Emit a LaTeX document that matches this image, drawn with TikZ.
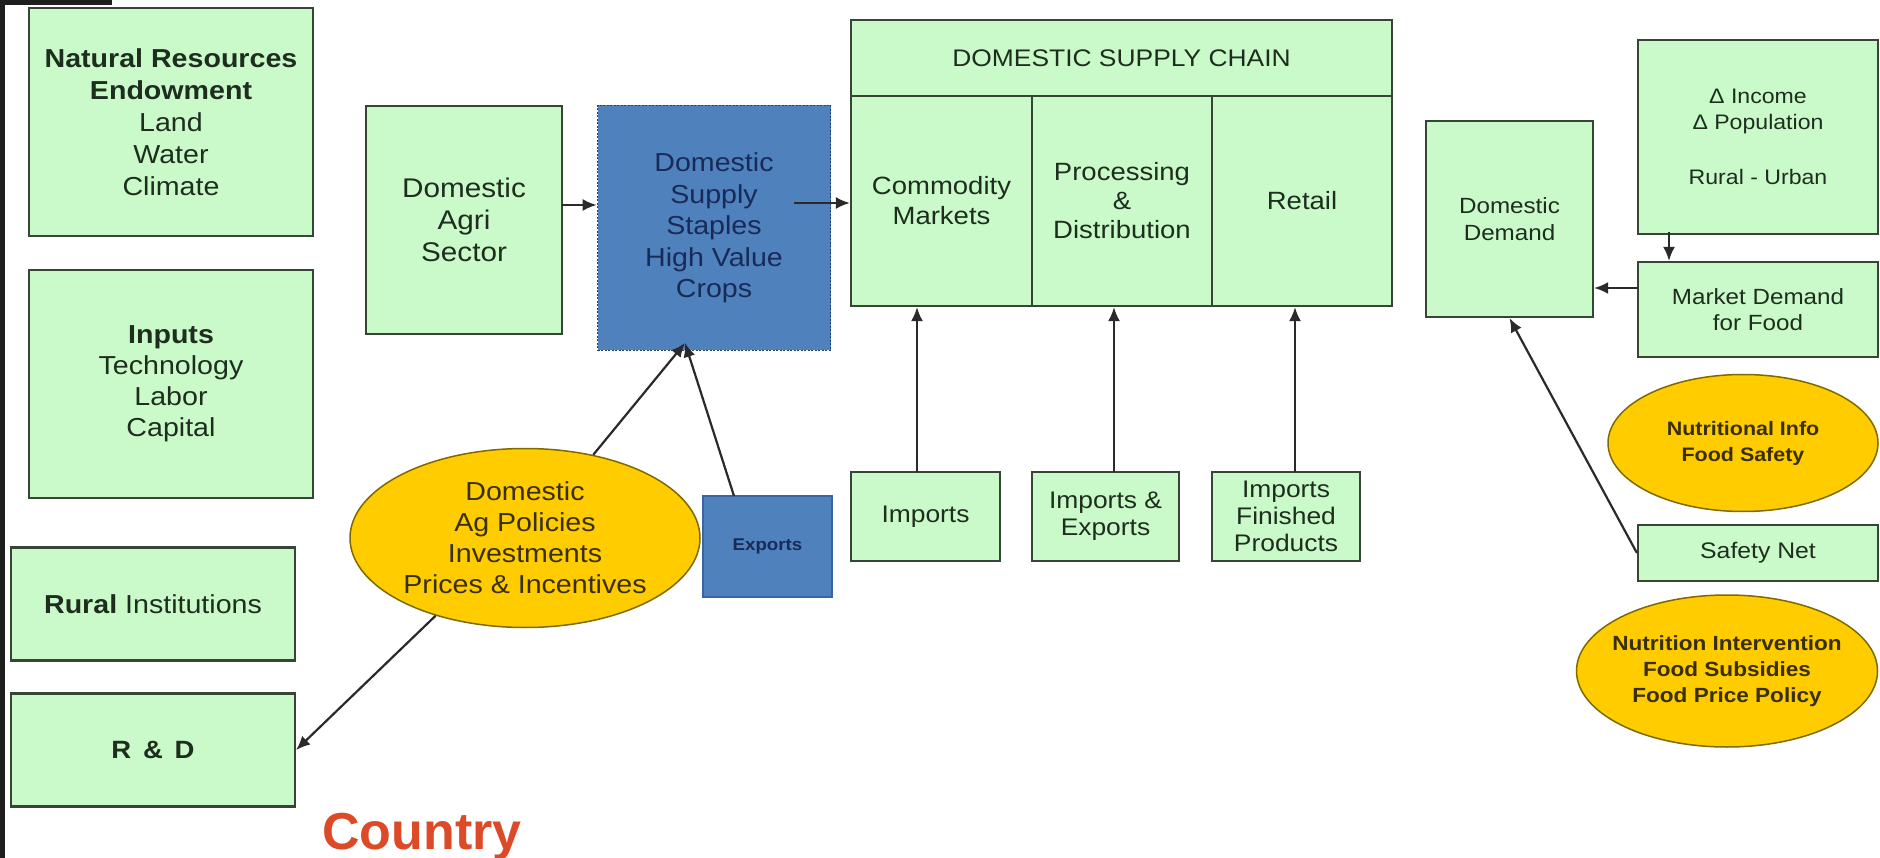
\documentclass[tikz,border=0pt]{standalone}
\usepackage{fontspec}
\setmainfont{Liberation Sans}[FakeStretch=1.1]
\newfontfamily\countryfont{Liberation Sans}
\usetikzlibrary{arrows.meta,shapes.geometric,calc}
\definecolor{greenf}{HTML}{CAFACA}
\definecolor{bordc}{HTML}{364536}
\definecolor{gtext}{HTML}{1E2E1E}
\definecolor{bluef}{HTML}{4F81BD}
\definecolor{bluebord}{HTML}{24406E}
\definecolor{bluetext}{HTML}{182B58}
\definecolor{expbord}{HTML}{3B64A6}
\definecolor{ellf}{HTML}{FFCC00}
\definecolor{ellbord}{HTML}{7F6A00}
\definecolor{etextc}{HTML}{3A2F00}
\definecolor{arrc}{HTML}{2A2A2A}
\definecolor{countryc}{HTML}{DD4A28}
\definecolor{darkedge}{HTML}{1E1E1E}
\tikzset{
  gbox/.style={draw=bordc, line width=2.2pt, fill=greenf, text=gtext, align=center, inner sep=0pt},
  bluebox/.style={draw=bluebord, line width=1.6pt, dash pattern=on 2pt off 1.5pt, fill=bluef, text=bluetext, align=center, inner sep=0pt},
  expbox/.style={draw=expbord, line width=2pt, fill=bluef, text=bluetext, align=center, inner sep=0pt},
  ebox/.style={ellipse, draw=ellbord, line width=1.5pt, fill=ellf, inner sep=0pt},
  etext/.style={text=etextc, align=center, inner sep=0pt},
  wh/.style 2 args={minimum width=#1pt, minimum height=#2pt},
  fnt/.style 2 args={font=\fontsize{#1}{#2}\selectfont},
  fntb/.style 2 args={font=\fontsize{#1}{#2}\selectfont\bfseries},
  arr/.style={draw=arrc, line width=2.2pt, -{Latex[length=14pt,width=12pt]}}
}
\begin{document}
\begin{tikzpicture}[x=1pt,y=-1pt]
\useasboundingbox (0,0) rectangle (1880,858);
\fill[white] (0,0) rectangle (1880,858);
\fill[darkedge] (0,0) rectangle (112,5);
\fill[darkedge] (0,0) rectangle (5,858);

% left column
\node[gbox, wh={284}{228}, fnt={26}{32}] (nat) at (171,122)
  {\textbf{Natural Resources}\\\textbf{Endowment}\\Land\\Water\\Climate};
\node[gbox, wh={284}{228}, fnt={26}{31}] (inp) at (171,384)
  {\textbf{Inputs}\\Technology\\Labor\\Capital};
\node[gbox, wh={284}{113}, fnt={26}{31}] (rural) at (153,604)
  {\textbf{Rural} Institutions};
\node[gbox, wh={284}{113}, fntb={25}{30}] (rd) at (153,750)
  {R \,\& \,D};
\node[text=countryc, font=\countryfont\fontsize{52}{60}\selectfont\bfseries, inner sep=0pt, anchor=base] (country) at (422,849) {Country};

% supply side
\node[gbox, wh={196}{228}, fnt={27}{32}] (agri) at (464,220)
  {Domestic\\Agri\\Sector};
\node[bluebox, wh={233}{245}, fnt={26}{31.5}] (blue) at (714,228)
  {Domestic\\Supply\\Staples\\High Value\\Crops};

% domestic supply chain
\node[gbox, wh={541}{76}, fnt={24}{29}] (dschead) at (1121.5,58) {DOMESTIC SUPPLY CHAIN};
\node[gbox, wh={181}{210}, fnt={25}{30}] (cm) at (941.5,201) {Commodity\\Markets};
\node[gbox, wh={180}{210}, fnt={25}{29}] (pd) at (1122,201) {Processing\\\&\\Distribution};
\node[gbox, wh={180}{210}, fnt={25}{30}] (rt) at (1302,201) {Retail};

\node[gbox, wh={149}{89}, fnt={24}{27}] (imp) at (925.5,516.5) {Imports};
\node[gbox, wh={147}{89}, fnt={24}{27}] (impexp) at (1105.5,516.5) {Imports \&\\Exports};
\node[gbox, wh={148}{89}, fnt={24}{27}] (impfin) at (1286,516.5) {Imports\\Finished\\Products};

% policies and exports
\node[ebox, wh={350}{179}] (policy) at (525,538) {};
\node[etext, fnt={26}{31}] (policyt) at (policy.center)
  {Domestic\\Ag Policies\\Investments\\Prices \& Incentives};
\node[expbox, wh={129}{101}, fntb={17}{20}] (exports) at (767.5,546.5) {Exports};

% demand side
\node[gbox, wh={167}{196}, fnt={22}{27}] (dd) at (1509.5,219) {Domestic\\Demand};
\node[gbox, wh={240}{194}, fnt={21}{26}] (inc) at (1758,137)
  {Δ Income\\Δ Population\\[29pt]Rural - Urban};
\node[gbox, wh={240}{95}, fnt={22}{26}] (mkt) at (1758,309.5) {Market Demand\\for Food};
\node[ebox, wh={270}{137}] (ni) at (1743,443) {};
\node[etext, fntb={19.5}{26}] (nit) at (ni.center) {Nutritional Info\\Food Safety};
\node[gbox, wh={240}{56}, fnt={22.5}{26}] (sn) at (1758,553) {Safety Net};
\node[ebox, wh={301}{152}] (nint) at (1727,671) {};
\node[etext, fntb={20.5}{26}] (nintt) at (nint.center)
  {Nutrition Intervention\\Food Subsidies\\Food Price Policy};

% connectors
\coordinate (a1) at (562,205);
\draw[arr] (a1) -- (a1 -| blue.west);
\coordinate (b1) at (794,203);
\draw[arr] (b1) -- (b1 -| cm.west);
\coordinate (u1) at (917,472);
\draw[arr] (u1) -- (u1 |- cm.south);
\coordinate (u2) at (1114,472);
\draw[arr] (u2) -- (u2 |- pd.south);
\coordinate (u3) at (1295,472);
\draw[arr] (u3) -- (u3 |- rt.south);

\coordinate (conv) at (685,343);
\draw[arr] (policy) -- (conv);
\coordinate (ex1) at (734,496);
\draw[arr] (ex1) -- (conv);
\draw[arr] (policy.221) -- (rd.east);

\coordinate (i1) at (1669,232);
\draw[arr] (i1) -- (i1 |- mkt.north);
\coordinate (m1) at (1638,288);
\draw[arr] (m1) -- (m1 -| dd.east);
\draw[arr] (sn.west) -- (dd.south);
\end{tikzpicture}
\end{document}
